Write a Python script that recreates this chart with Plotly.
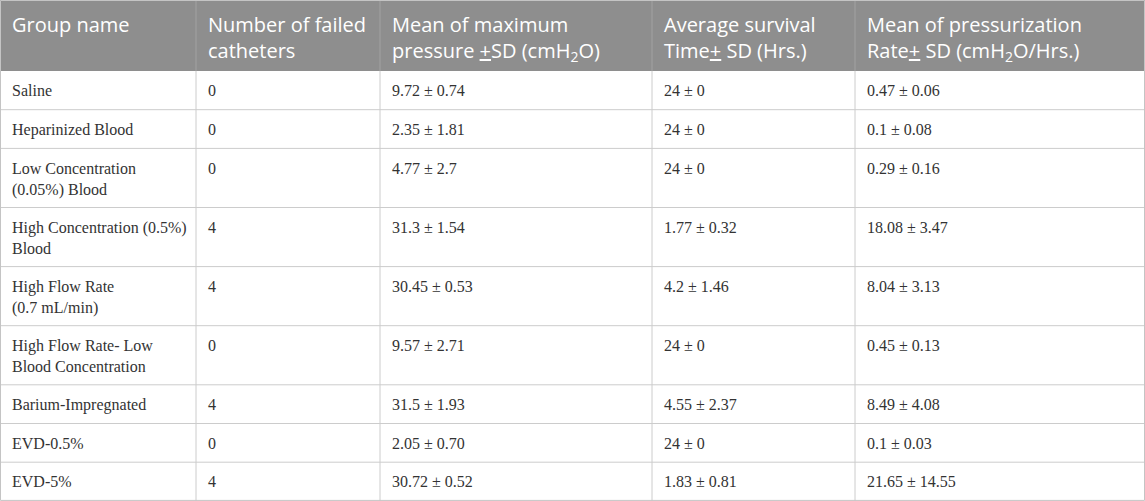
import plotly.graph_objects as go

# column headers (<br> marks a line break)
headers = [
    "Group name",
    "Number of failed<br>catheters",
    "Mean of maximum<br>pressure <u>+</u>SD (cmH<sub>2</sub>O)",
    "Average survival<br>Time<u>+</u> SD (Hrs.)",
    "Mean of pressurization<br>Rate<u>+</u> SD (cmH<sub>2</sub>O/Hrs.)",
]

groups = [
    "Saline",
    "Heparinized Blood",
    "Low Concentration<br>(0.05%) Blood",
    "High Concentration (0.5%)<br>Blood",
    "High Flow Rate<br>(0.7 mL/min)",
    "High Flow Rate- Low<br>Blood Concentration",
    "Barium-Impregnated",
    "EVD-0.5%",
    "EVD-5%",
]
failed = [0, 0, 0, 4, 4, 0, 4, 0, 4]
pressure_mean = ["9.72", "2.35", "4.77", "31.3", "30.45", "9.57", "31.5", "2.05", "30.72"]
pressure_sd = ["0.74", "1.81", "2.7", "1.54", "0.53", "2.71", "1.93", "0.70", "0.52"]
survival_mean = ["24", "24", "24", "1.77", "4.2", "24", "4.55", "24", "1.83"]
survival_sd = ["0", "0", "0", "0.32", "1.46", "0", "2.37", "0", "0.81"]
rate_mean = ["0.47", "0.1", "0.29", "18.08", "8.04", "0.45", "8.49", "0.1", "21.65"]
rate_sd = ["0.06", "0.08", "0.16", "3.47", "3.13", "0.13", "4.08", "0.03", "14.55"]


def pm(means, sds):
    return [f"{m} \u00b1 {s}" for m, s in zip(means, sds)]


columns = [
    groups,
    [str(v) for v in failed],
    pm(pressure_mean, pressure_sd),
    pm(survival_mean, survival_sd),
    pm(rate_mean, rate_sd),
]

# layout of the table in pixels
W, H = 1145, 501
col_w = [196, 184, 272, 203, 290]
header_h = 71
row_h1 = 38.7      # one-line row
row_extra = 20.4   # each extra line
pad_x = 10.5

head_font = dict(family="Open Sans", size=20, color="white")
body_font = dict(family="Liberation Serif", size=16, color="#333333")
head_first = 31     # baseline of first header line from top
body_first = 24.5   # baseline of first body line from row top

col_x = [0]
for w in col_w:
    col_x.append(col_x[-1] + w)

n_lines = [max(len(c[i].split("<br>")) for c in columns) for i in range(len(groups))]
row_y = [header_h]
for n in n_lines:
    row_y.append(row_y[-1] + row_h1 + row_extra * (n - 1))

shapes = []
annotations = []


def add_text(text, x, baseline, font, ascent):
    annotations.append(dict(
        x=x, y=baseline - ascent * font["size"],
        xref="x", yref="y", xanchor="left", yanchor="top", align="left",
        text=text, showarrow=False, borderpad=0, font=font,
    ))


# header band
shapes.append(dict(type="rect", x0=0, x1=W, y0=0, y1=header_h,
                   fillcolor="#8e8e8e", line_width=0, layer="below"))
for j, h in enumerate(headers):
    add_text(h, col_x[j] + pad_x, head_first, head_font, 1.069)

# body rows
for i in range(len(groups)):
    for j, col in enumerate(columns):
        add_text(col[i], col_x[j] + pad_x, row_y[i] + body_first,
                 body_font, 0.891)

# grid
for y in row_y[1:-1]:
    shapes.append(dict(type="line", x0=0, x1=W, y0=y, y1=y,
                       line=dict(color="#cccccc", width=1)))
for x in col_x[1:-1]:
    shapes.append(dict(type="line", x0=x, x1=x, y0=0, y1=header_h,
                       line=dict(color="#a2a2a2", width=1)))
    shapes.append(dict(type="line", x0=x, x1=x, y0=header_h, y1=row_y[-1],
                       line=dict(color="#cccccc", width=1)))
shapes.append(dict(type="rect", x0=0.5, x1=W - 0.5, y0=0.5, y1=row_y[-1] - 0.5,
                   line=dict(color="#c4c4c4", width=1)))

fig = go.Figure()
fig.update_layout(
    width=W,
    height=H,
    margin=dict(l=0, r=0, t=0, b=0),
    paper_bgcolor="white",
    plot_bgcolor="white",
    xaxis=dict(range=[0, W], visible=False, fixedrange=True),
    yaxis=dict(range=[H, 0], visible=False, fixedrange=True),
    shapes=shapes,
    annotations=annotations,
    showlegend=False,
)

fig.write_html("out.html", config={"displayModeBar": False},
               post_script="document.body.style.margin = '0';")
